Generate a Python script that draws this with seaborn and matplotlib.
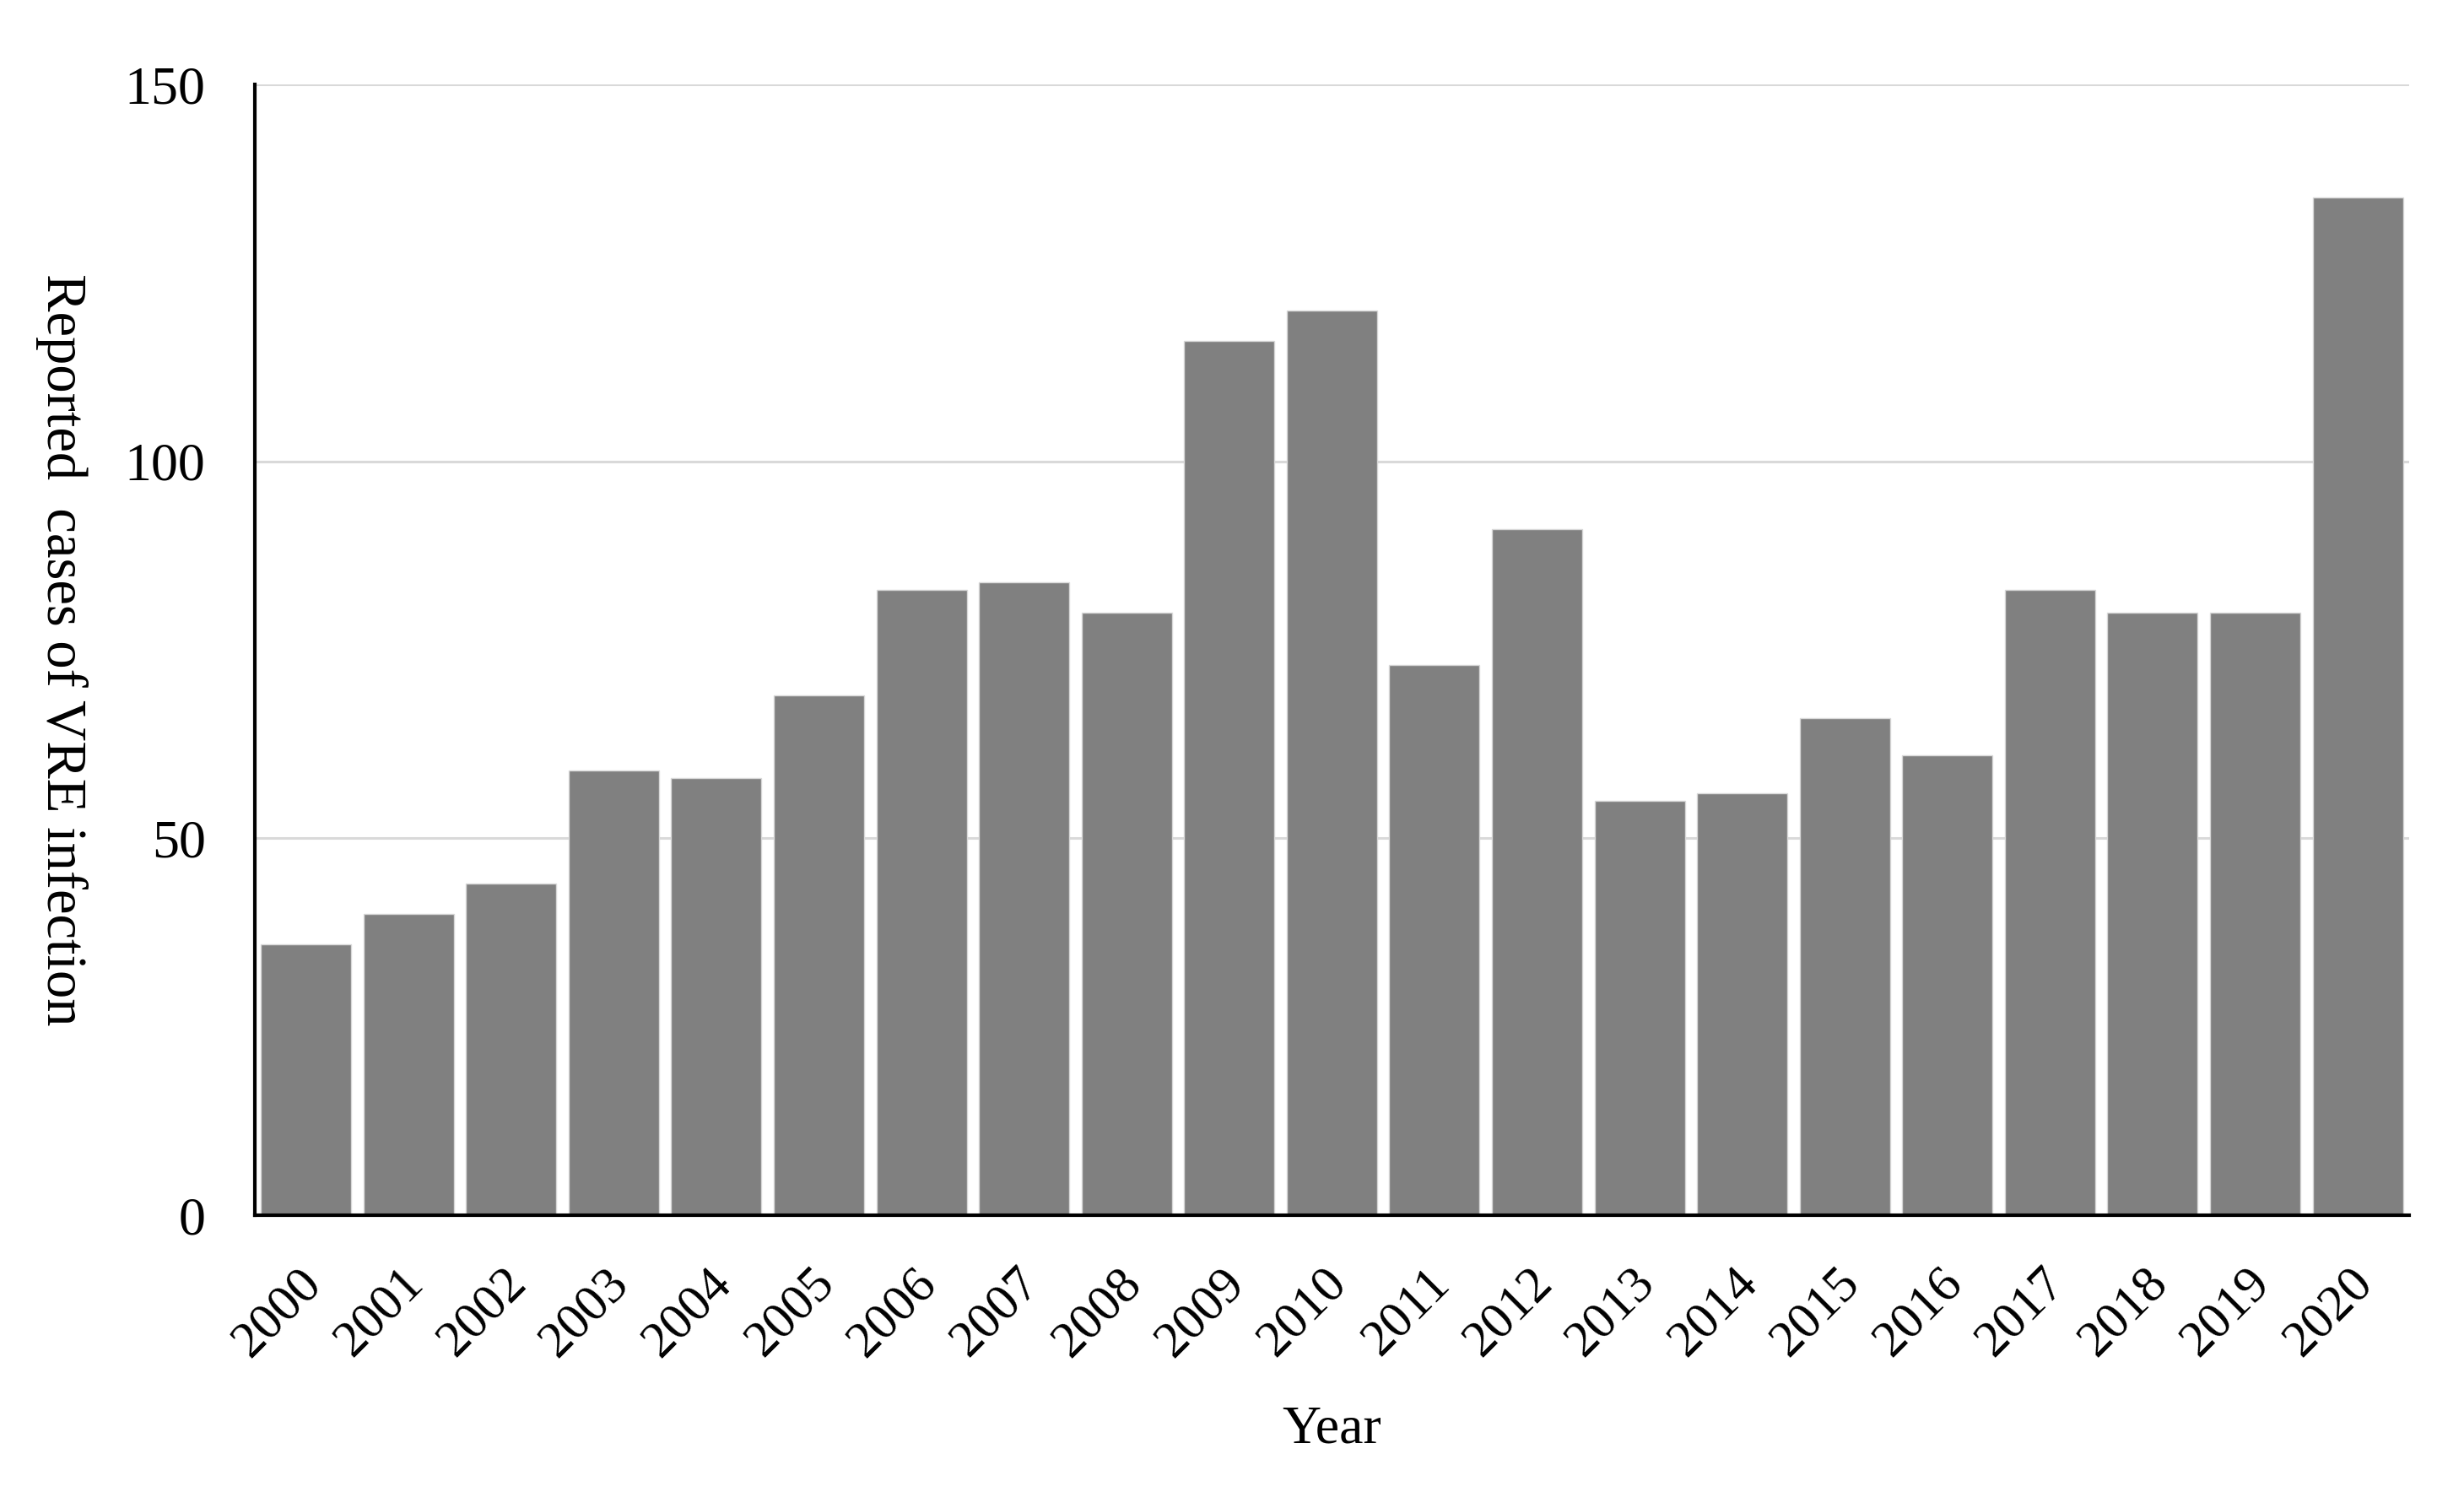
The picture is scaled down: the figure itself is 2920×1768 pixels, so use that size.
import matplotlib
matplotlib.use("Agg")
import matplotlib.pyplot as plt
import matplotlib.transforms as mtransforms
import seaborn as sns
import pandas as pd

# Reported VRE cases per year
years = [str(y) for y in range(2000, 2021)]
cases = [36, 40, 44, 59, 58, 69, 83, 84, 80, 116, 120, 73, 91, 55, 56, 66, 61, 83, 80, 80, 135]
y_ticks = [0, 50, 100, 150]

df = pd.DataFrame({"Year": years, "Cases": cases})

sns.set_theme(style="white")
plt.rcParams["font.family"] = ["Liberation Serif", "DejaVu Serif"]

fig = plt.figure(figsize=(29.2, 17.68), dpi=100)
ax = fig.add_axes([0.1034, 0.1855, 0.8743, 0.7577])

sns.barplot(data=df, x="Year", y="Cases", color="#808080", saturation=1,
            width=0.88, edgecolor="#d8d8d8", linewidth=1, ax=ax, zorder=3)

ax.set_xlim(-0.5, len(years) - 0.5)
ax.set_ylim(0, 150)
ax.set_yticks(y_ticks)
ax.yaxis.grid(True, color="#d9d9d9", linewidth=2.2, zorder=0)
ax.set_axisbelow(True)

for side in ["top", "right"]:
    ax.spines[side].set_visible(False)
for side in ["left", "bottom"]:
    ax.spines[side].set_color("black")
    ax.spines[side].set_linewidth(3)
    ax.spines[side].set_zorder(4)

ax.tick_params(axis="y", length=0, pad=42, labelsize=46, colors="black")
ax.tick_params(axis="x", length=0, pad=52, labelsize=44, colors="black")
# nudge rotated year labels a little to the right
shift = mtransforms.ScaledTranslation(9 / 100, 0, fig.dpi_scale_trans)
for lbl in ax.get_xticklabels():
    lbl.set_rotation(45)
    lbl.set_ha("right")
    lbl.set_va("center")
    lbl.set_rotation_mode("anchor")
    lbl.set_transform(lbl.get_transform() + shift)

ax.set_xlabel("Year", fontsize=46, labelpad=34, color="black")
ax.set_ylabel("Reported  cases of VRE infection", fontsize=48, rotation=270,
              va="bottom", labelpad=76, color="black")

fig.savefig("out.png", dpi=100, facecolor="white")
